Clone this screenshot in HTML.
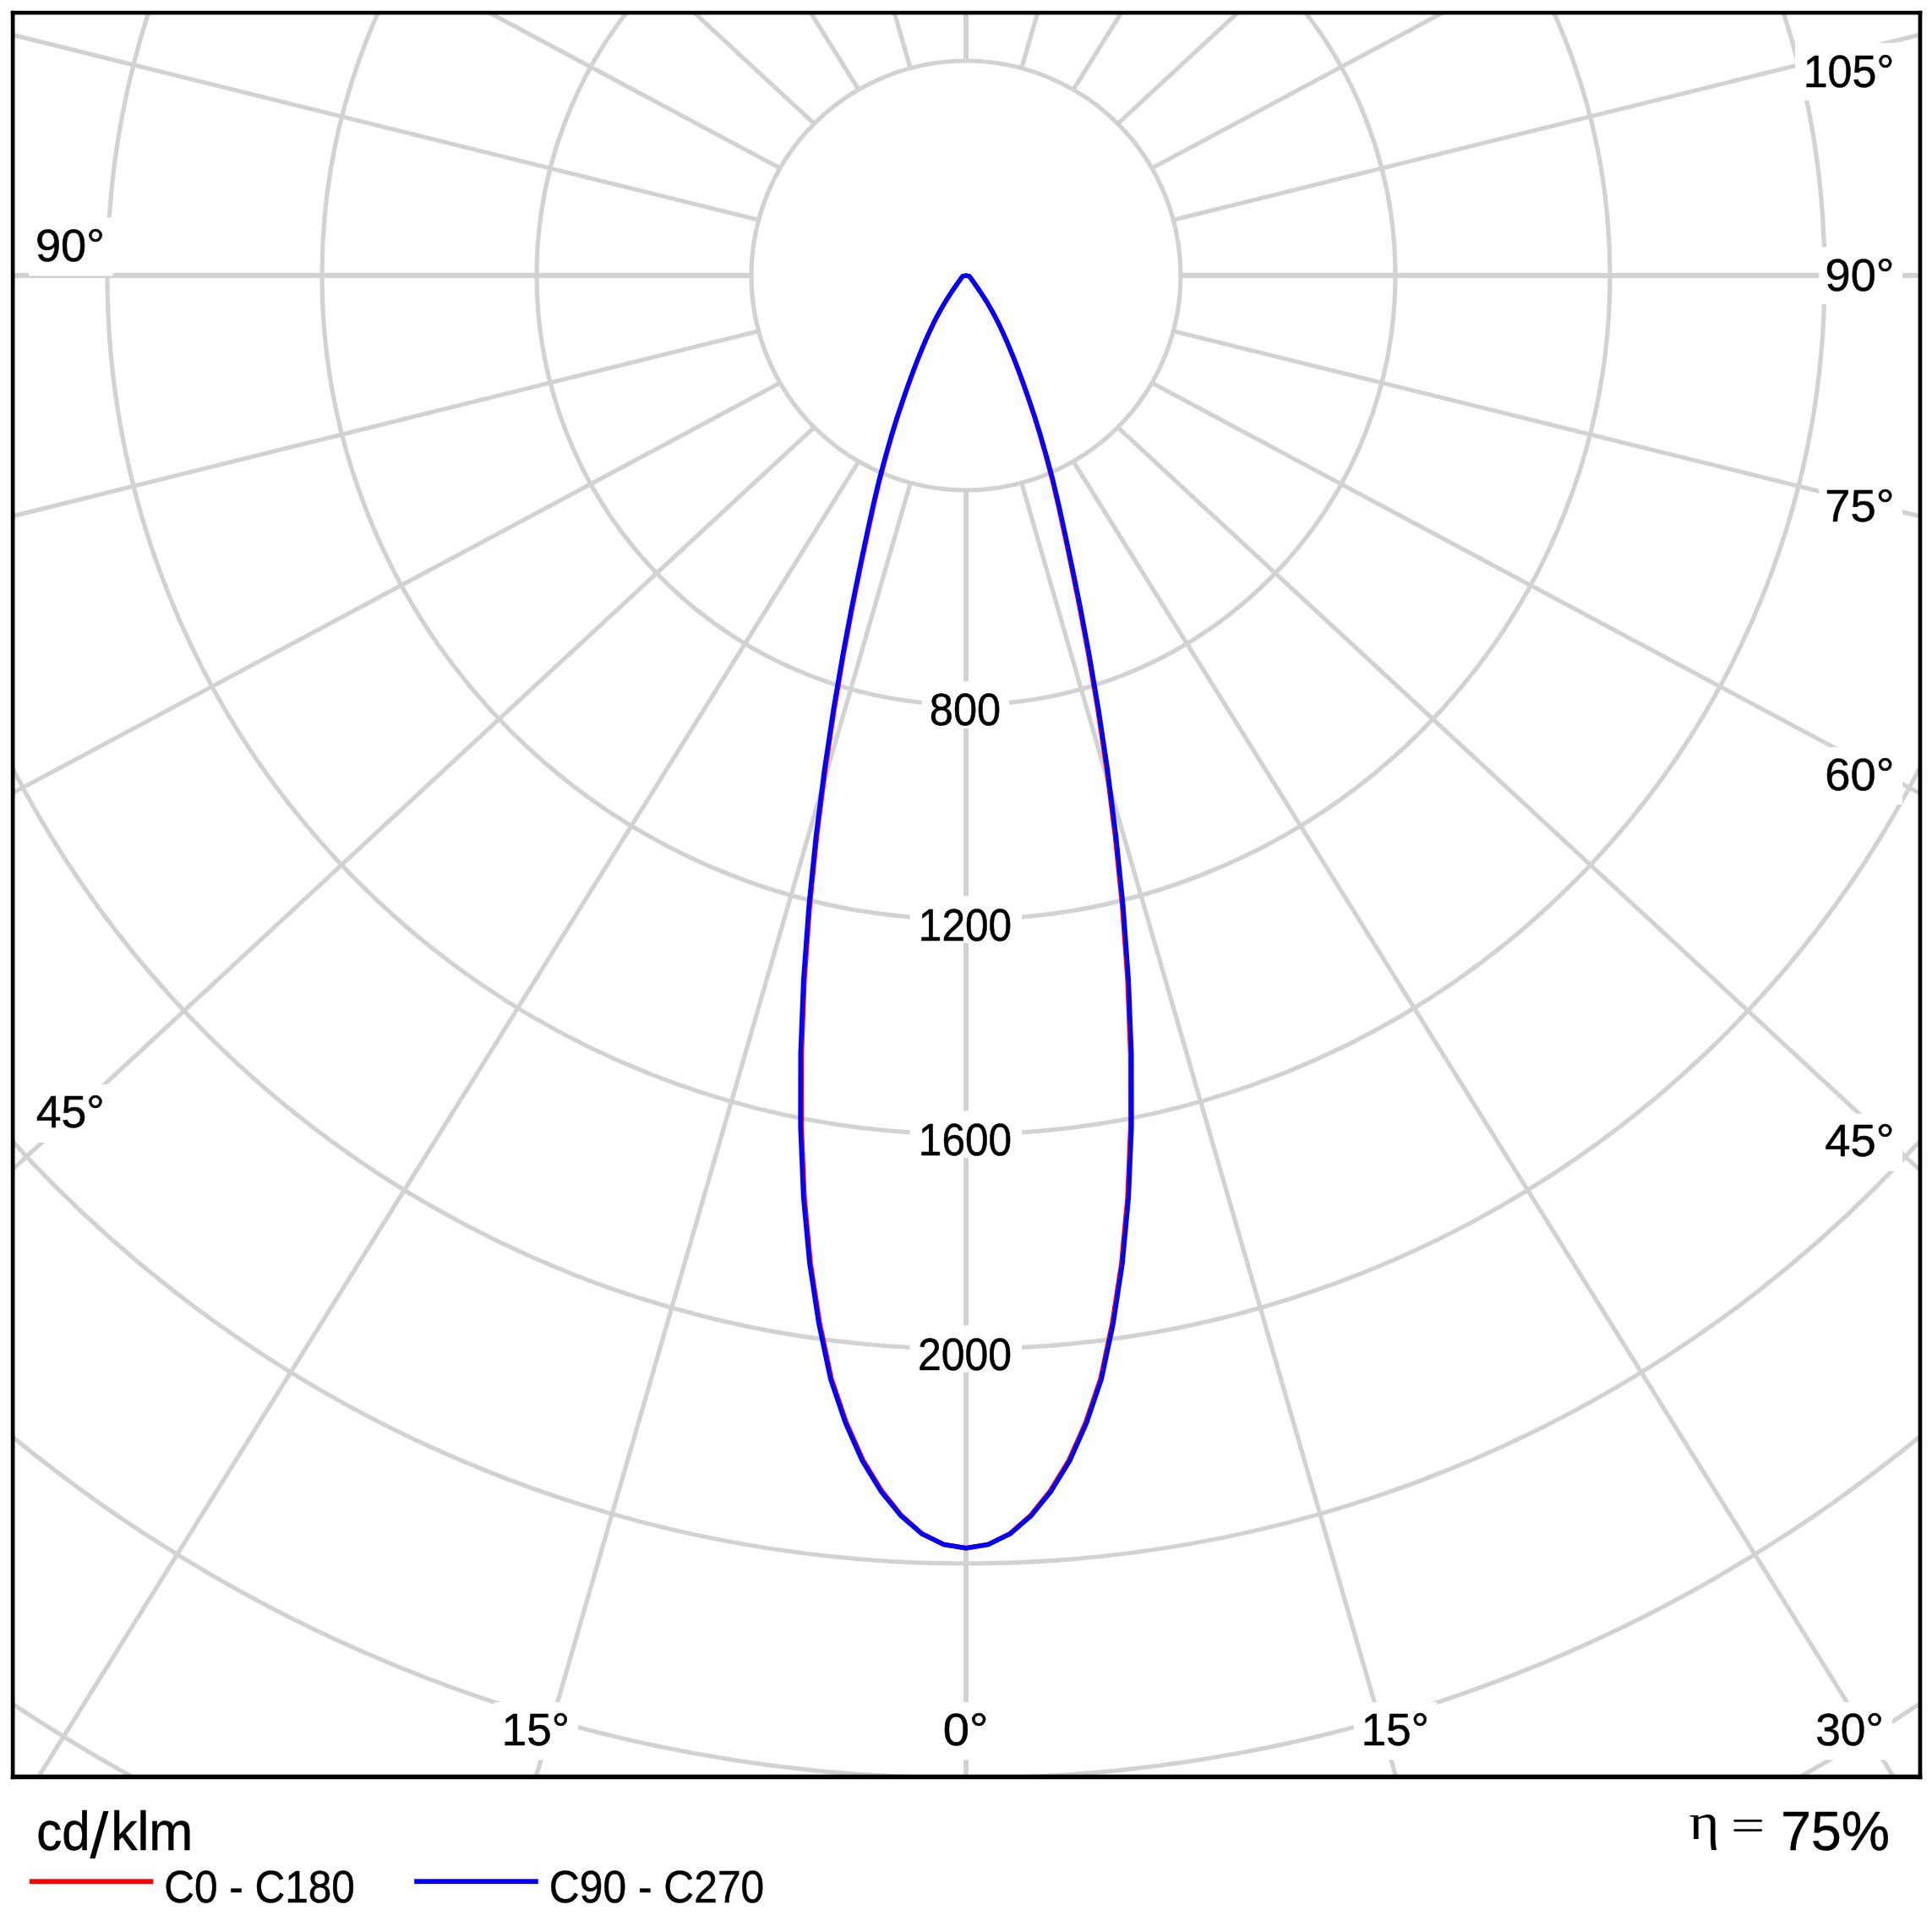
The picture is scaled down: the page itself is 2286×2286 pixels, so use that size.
<!DOCTYPE html>
<html lang="en">
<head>
<meta charset="utf-8">
<title>Polar luminous intensity diagram</title>
<style>
html,body{margin:0;padding:0;background:#ffffff;width:2286px;height:2286px;overflow:hidden}
svg{display:block}
text{font-kerning:none;fill:#000000;white-space:pre;stroke:#000000;stroke-width:0.55px;stroke-linejoin:round}
text.thin{stroke-width:0}
</style>
</head>
<body>
<svg width="2286" height="2286" viewBox="0 0 2286 2286">
<rect x="0" y="0" width="2286" height="2286" fill="#ffffff"/>
<defs><clipPath id="plot"><rect x="16" y="16" width="2255" height="2085"/></clipPath></defs>
<g clip-path="url(#plot)">
<g fill="none" stroke="#d2d2d2" stroke-width="5.2">
<circle cx="1143.0" cy="326.0" r="254.0"/>
<circle cx="1143.0" cy="326.0" r="508.0"/>
<circle cx="1143.0" cy="326.0" r="762.0"/>
<circle cx="1143.0" cy="326.0" r="1016.0"/>
<circle cx="1143.0" cy="326.0" r="1270.0"/>
<circle cx="1143.0" cy="326.0" r="1524.0"/>
<circle cx="1143.0" cy="326.0" r="1778.0"/>
<circle cx="1143.0" cy="326.0" r="2032.0"/>
<line x1="1143.00" y1="580.00" x2="1143.00" y2="3580.00" stroke-width="5.9"/>
<line x1="1208.74" y1="571.35" x2="2042.68" y2="3453.11"/>
<line x1="1270.00" y1="545.97" x2="2857.32" y2="3091.64"/>
<line x1="1322.61" y1="505.61" x2="3523.89" y2="2543.83"/>
<line x1="1362.97" y1="453.00" x2="4008.65" y2="1867.34"/>
<line x1="1388.35" y1="391.74" x2="4300.07" y2="1114.14"/>
<line x1="1397.00" y1="326.00" x2="4397.00" y2="326.00" stroke-width="5.9"/>
<line x1="1388.35" y1="260.26" x2="4300.07" y2="-462.14"/>
<line x1="1362.97" y1="199.00" x2="4008.65" y2="-1215.34"/>
<line x1="1322.61" y1="146.39" x2="3523.89" y2="-1891.83"/>
<line x1="1270.00" y1="106.03" x2="2857.32" y2="-2439.64"/>
<line x1="1208.74" y1="80.65" x2="2042.68" y2="-2801.11"/>
<line x1="1143.00" y1="72.00" x2="1143.00" y2="-2928.00" stroke-width="5.9"/>
<line x1="1077.26" y1="80.65" x2="243.32" y2="-2801.11"/>
<line x1="1016.00" y1="106.03" x2="-571.32" y2="-2439.64"/>
<line x1="963.39" y1="146.39" x2="-1237.89" y2="-1891.83"/>
<line x1="923.03" y1="199.00" x2="-1722.65" y2="-1215.34"/>
<line x1="897.65" y1="260.26" x2="-2014.07" y2="-462.14"/>
<line x1="889.00" y1="326.00" x2="-2111.00" y2="326.00" stroke-width="5.9"/>
<line x1="897.65" y1="391.74" x2="-2014.07" y2="1114.14"/>
<line x1="923.03" y1="453.00" x2="-1722.65" y2="1867.34"/>
<line x1="963.39" y1="505.61" x2="-1237.89" y2="2543.83"/>
<line x1="1016.00" y1="545.97" x2="-571.32" y2="3091.64"/>
<line x1="1077.26" y1="571.35" x2="243.32" y2="3453.11"/>
</g>
<g>
<rect x="34" y="257.4" width="99.5" height="68.9" fill="#fff"/>
<rect x="34" y="1283.1" width="99.5" height="68.9" fill="#fff"/>
<rect x="2124" y="50.7" width="127.3" height="68.3" fill="#fff"/>
<rect x="2152.3" y="292.3" width="98.8" height="67.8" fill="#fff"/>
<rect x="2152.3" y="566.0" width="98.8" height="67.8" fill="#fff"/>
<rect x="2152.3" y="884.2" width="98.8" height="67.8" fill="#fff"/>
<rect x="2152.3" y="1317.8" width="98.8" height="67.8" fill="#fff"/>
<rect x="2140.5" y="2014.0" width="98.5" height="68.4" fill="#fff"/>
<rect x="1601.7" y="2014.0" width="98.6" height="68.4" fill="#fff"/>
<rect x="1107.5" y="2014.0" width="71.2" height="68.4" fill="#fff"/>
<rect x="584.6" y="2014.0" width="99.4" height="68.4" fill="#fff"/>
<rect x="1091.1" y="806.3" width="103.0" height="55.4" fill="#fff"/>
<rect x="1076.6" y="1060.4" width="132.5" height="55.4" fill="#fff"/>
<rect x="1076.6" y="1314.4" width="132.5" height="55.4" fill="#fff"/>
<rect x="1076.6" y="1568.4" width="132.5" height="55.4" fill="#fff"/>
<text transform="translate(41.96 309.28) scale(0.9955 1)" font-family="Liberation Sans, sans-serif" font-size="54.4">90°</text>
<text transform="translate(42.77 1334.20) scale(0.9852 1)" font-family="Liberation Sans, sans-serif" font-size="54.4">45°</text>
<text transform="translate(2133.64 102.58) scale(0.9562 1)" font-family="Liberation Sans, sans-serif" font-size="54.4">105°</text>
<text transform="translate(2159.56 343.58) scale(0.9955 1)" font-family="Liberation Sans, sans-serif" font-size="54.4">90°</text>
<text transform="translate(2159.21 617.05) scale(0.9999 1)" font-family="Liberation Sans, sans-serif" font-size="54.4">75°</text>
<text transform="translate(2159.34 935.23) scale(0.9982 1)" font-family="Liberation Sans, sans-serif" font-size="54.4">60°</text>
<text transform="translate(2159.25 1368.10) scale(0.9994 1)" font-family="Liberation Sans, sans-serif" font-size="54.4">45°</text>
<text transform="translate(2148.17 2065.43) scale(0.9815 1)" font-family="Liberation Sans, sans-serif" font-size="54.4">30°</text>
<text transform="translate(1610.86 2065.15) scale(0.9752 1)" font-family="Liberation Sans, sans-serif" font-size="54.4">15°</text>
<text transform="translate(1115.80 2065.43) scale(1.0340 1)" font-family="Liberation Sans, sans-serif" font-size="54.4">0°</text>
<text transform="translate(593.76 2065.15) scale(0.9752 1)" font-family="Liberation Sans, sans-serif" font-size="54.4">15°</text>
<text transform="translate(1099.80 858.33) scale(0.9296 1)" font-family="Liberation Sans, sans-serif" font-size="54.4">800</text>
<text transform="translate(1086.82 1112.53) scale(0.9115 1)" font-family="Liberation Sans, sans-serif" font-size="54.4">1200</text>
<text transform="translate(1086.82 1366.53) scale(0.9115 1)" font-family="Liberation Sans, sans-serif" font-size="54.4">1600</text>
<text transform="translate(1085.99 1620.53) scale(0.9186 1)" font-family="Liberation Sans, sans-serif" font-size="54.4">2000</text>
</g>
<path d="M1139.60 326.60 L1139.56 326.63 L1139.51 326.66 L1139.47 326.70 L1139.42 326.73 L1139.37 326.77 L1139.32 326.81 L1139.27 326.85 L1139.22 326.89 L1139.16 326.94 L1139.10 326.99 L1139.05 327.04 L1138.98 327.09 L1138.92 327.15 L1138.85 327.21 L1138.79 327.28 L1138.71 327.35 L1138.64 327.42 L1138.56 327.50 L1138.48 327.59 L1138.39 327.68 L1138.30 327.80 L1138.20 327.94 L1138.10 328.08 L1138.00 328.23 L1137.88 328.39 L1137.76 328.55 L1137.63 328.73 L1137.50 328.93 L1137.35 329.13 L1137.19 329.35 L1137.02 329.59 L1136.84 329.85 L1136.63 330.13 L1136.42 330.44 L1136.18 330.78 L1135.91 331.15 L1135.62 331.56 L1135.30 332.02 L1134.93 332.53 L1134.52 333.11 L1134.06 333.77 L1133.53 334.53 L1132.92 335.40 L1132.20 336.43 L1131.35 337.65 L1130.33 339.12 L1129.09 340.91 L1127.59 343.12 L1125.77 345.83 L1123.56 349.17 L1120.92 353.31 L1117.92 358.19 L1114.59 363.85 L1111.06 370.17 L1107.39 377.11 L1103.65 384.66 L1099.77 392.95 L1095.64 402.24 L1091.19 412.74 L1086.29 424.82 L1081.03 438.52 L1075.40 453.99 L1069.24 471.74 L1062.25 492.68 L1055.22 515.53 L1048.21 540.36 L1040.58 568.93 L1033.72 598.33 L1026.47 631.63 L1018.09 671.50 L1008.42 719.44 L998.01 775.11 L987.24 838.69 L976.58 909.96 L966.66 988.12 L958.17 1071.78 L951.87 1158.92 L948.43 1247.03 L948.32 1333.69 L951.84 1416.81 L959.08 1494.59 L969.94 1565.59 L983.84 1631.38 L1001.43 1683.15 L1021.36 1727.99 L1043.38 1764.00 L1066.66 1793.13 L1091.22 1814.76 L1116.79 1827.57 L1143.00 1831.70 L1169.21 1827.57 L1194.78 1814.76 L1219.34 1793.13 L1242.62 1764.00 L1264.64 1727.99 L1284.57 1683.15 L1302.16 1631.38 L1316.06 1565.59 L1326.92 1494.59 L1334.16 1416.81 L1337.68 1333.69 L1337.57 1247.03 L1334.13 1158.92 L1327.83 1071.78 L1319.34 988.12 L1309.42 909.96 L1298.76 838.69 L1287.99 775.11 L1277.58 719.44 L1267.91 671.50 L1259.53 631.63 L1252.28 598.33 L1245.42 568.93 L1237.79 540.36 L1230.78 515.53 L1223.75 492.68 L1216.76 471.74 L1210.60 453.99 L1204.97 438.52 L1199.71 424.82 L1194.81 412.74 L1190.36 402.24 L1186.23 392.95 L1182.35 384.66 L1178.61 377.11 L1174.94 370.17 L1171.41 363.85 L1168.08 358.19 L1165.08 353.31 L1162.44 349.17 L1160.23 345.83 L1158.41 343.12 L1156.91 340.91 L1155.67 339.12 L1154.65 337.65 L1153.80 336.43 L1153.08 335.40 L1152.47 334.53 L1151.94 333.77 L1151.48 333.11 L1151.07 332.53 L1150.70 332.02 L1150.38 331.56 L1150.09 331.15 L1149.82 330.78 L1149.58 330.44 L1149.37 330.13 L1149.16 329.85 L1148.98 329.59 L1148.81 329.35 L1148.65 329.13 L1148.50 328.93 L1148.37 328.73 L1148.24 328.55 L1148.12 328.39 L1148.00 328.23 L1147.90 328.08 L1147.80 327.94 L1147.70 327.80 L1147.61 327.68 L1147.52 327.59 L1147.44 327.50 L1147.36 327.42 L1147.29 327.35 L1147.21 327.28 L1147.15 327.21 L1147.08 327.15 L1147.02 327.09 L1146.95 327.04 L1146.90 326.99 L1146.84 326.94 L1146.78 326.89 L1146.73 326.85 L1146.68 326.81 L1146.63 326.77 L1146.58 326.73 L1146.53 326.70 L1146.49 326.66 L1146.44 326.63 L1146.40 326.60 L1143.00 326.10 Z" fill="none" stroke="#ff0000" stroke-width="5.5" stroke-linejoin="round"/>
<path d="M1139.60 326.60 L1139.56 326.63 L1139.51 326.66 L1139.47 326.70 L1139.42 326.73 L1139.37 326.77 L1139.32 326.81 L1139.27 326.85 L1139.22 326.89 L1139.16 326.94 L1139.10 326.99 L1139.05 327.04 L1138.98 327.09 L1138.92 327.15 L1138.85 327.21 L1138.79 327.28 L1138.71 327.35 L1138.64 327.42 L1138.56 327.50 L1138.48 327.59 L1138.39 327.68 L1138.30 327.80 L1138.20 327.94 L1138.10 328.08 L1138.00 328.23 L1137.88 328.39 L1137.76 328.55 L1137.63 328.73 L1137.50 328.93 L1137.35 329.13 L1137.19 329.35 L1137.02 329.59 L1136.84 329.85 L1136.63 330.13 L1136.42 330.44 L1136.18 330.78 L1135.91 331.15 L1135.62 331.56 L1135.30 332.02 L1134.93 332.53 L1134.52 333.11 L1134.06 333.77 L1133.53 334.53 L1132.92 335.40 L1132.20 336.43 L1131.35 337.65 L1130.33 339.12 L1129.09 340.91 L1127.59 343.12 L1125.77 345.83 L1123.56 349.17 L1120.90 353.30 L1117.87 358.16 L1114.51 363.80 L1110.95 370.11 L1107.26 377.05 L1103.49 384.58 L1099.58 392.86 L1095.42 402.14 L1090.95 412.63 L1086.01 424.71 L1080.70 438.39 L1075.02 453.85 L1068.82 471.59 L1061.78 492.53 L1054.69 515.38 L1047.63 540.20 L1039.95 568.78 L1033.03 598.18 L1025.74 631.48 L1017.31 671.34 L1007.58 719.28 L997.13 774.95 L986.30 838.54 L975.59 909.82 L965.62 988.00 L957.08 1071.69 L950.72 1158.86 L947.23 1247.00 L947.12 1333.72 L950.65 1416.89 L957.89 1494.73 L968.76 1565.81 L982.68 1631.69 L1000.31 1683.58 L1020.29 1728.54 L1042.40 1764.69 L1066.08 1793.69 L1091.00 1815.09 L1116.79 1827.57 L1143.00 1831.70 L1169.21 1827.57 L1195.00 1815.09 L1219.92 1793.69 L1243.60 1764.69 L1265.71 1728.54 L1285.69 1683.58 L1303.32 1631.69 L1317.24 1565.81 L1328.11 1494.73 L1335.35 1416.89 L1338.88 1333.72 L1338.77 1247.00 L1335.28 1158.86 L1328.92 1071.69 L1320.38 988.00 L1310.41 909.82 L1299.70 838.54 L1288.87 774.95 L1278.42 719.28 L1268.69 671.34 L1260.26 631.48 L1252.97 598.18 L1246.05 568.78 L1238.37 540.20 L1231.31 515.38 L1224.22 492.53 L1217.18 471.59 L1210.98 453.85 L1205.30 438.39 L1199.99 424.71 L1195.05 412.63 L1190.58 402.14 L1186.42 392.86 L1182.51 384.58 L1178.74 377.05 L1175.05 370.11 L1171.49 363.80 L1168.13 358.16 L1165.10 353.30 L1162.44 349.17 L1160.23 345.83 L1158.41 343.12 L1156.91 340.91 L1155.67 339.12 L1154.65 337.65 L1153.80 336.43 L1153.08 335.40 L1152.47 334.53 L1151.94 333.77 L1151.48 333.11 L1151.07 332.53 L1150.70 332.02 L1150.38 331.56 L1150.09 331.15 L1149.82 330.78 L1149.58 330.44 L1149.37 330.13 L1149.16 329.85 L1148.98 329.59 L1148.81 329.35 L1148.65 329.13 L1148.50 328.93 L1148.37 328.73 L1148.24 328.55 L1148.12 328.39 L1148.00 328.23 L1147.90 328.08 L1147.80 327.94 L1147.70 327.80 L1147.61 327.68 L1147.52 327.59 L1147.44 327.50 L1147.36 327.42 L1147.29 327.35 L1147.21 327.28 L1147.15 327.21 L1147.08 327.15 L1147.02 327.09 L1146.95 327.04 L1146.90 326.99 L1146.84 326.94 L1146.78 326.89 L1146.73 326.85 L1146.68 326.81 L1146.63 326.77 L1146.58 326.73 L1146.53 326.70 L1146.49 326.66 L1146.44 326.63 L1146.40 326.60 L1143.00 326.10 Z" fill="none" stroke="#0000ff" stroke-width="5.5" stroke-linejoin="round"/>
</g>
<g fill="#000000">
<rect x="12.8" y="12.8" width="2261.5" height="4.6"/>
<rect x="12.8" y="2099.7" width="2261.5" height="5.5"/>
<rect x="12.8" y="12.8" width="4.7" height="2092.4"/>
<rect x="2269.6" y="12.8" width="4.7" height="2092.4"/>
</g>
<g>
<text transform="translate(43.35 2189.00) scale(0.9182 1)" font-family="Liberation Sans, sans-serif" font-size="65.4">cd</text>
<text class="thin" transform="translate(106.30 2197.80) scale(1.0418 1)" font-family="Liberation Sans, sans-serif" font-size="76.7">/</text>
<text transform="translate(131.19 2189.00) scale(0.9549 1)" font-family="Liberation Sans, sans-serif" font-size="65.4">klm</text>
<rect x="34.9" y="2223.3" width="146.4" height="5.7" fill="#ff0000"/>
<text transform="translate(194.18 2251.20) scale(0.9241 1)" font-family="Liberation Sans, sans-serif" font-size="53.6">C0 - C180</text>
<rect x="490.2" y="2223.3" width="146.6" height="5.7" fill="#0000ff"/>
<text transform="translate(649.87 2251.20) scale(0.9284 1)" font-family="Liberation Sans, sans-serif" font-size="53.6">C90 - C270</text>
<text transform="translate(2107.30 2189.00) scale(0.9900 1)" font-family="Liberation Sans, sans-serif" font-size="65.0">75%</text>
<text class="thin" transform="translate(1998.42 2175.60) scale(1.1405 1)" font-family="Liberation Serif, serif" font-size="60.5">η</text>
<text class="thin" transform="translate(2048.05 2179.30) scale(1.2301 1)" font-family="Liberation Serif, serif" font-size="58.0">=</text>
</g>
</svg>
</body>
</html>
